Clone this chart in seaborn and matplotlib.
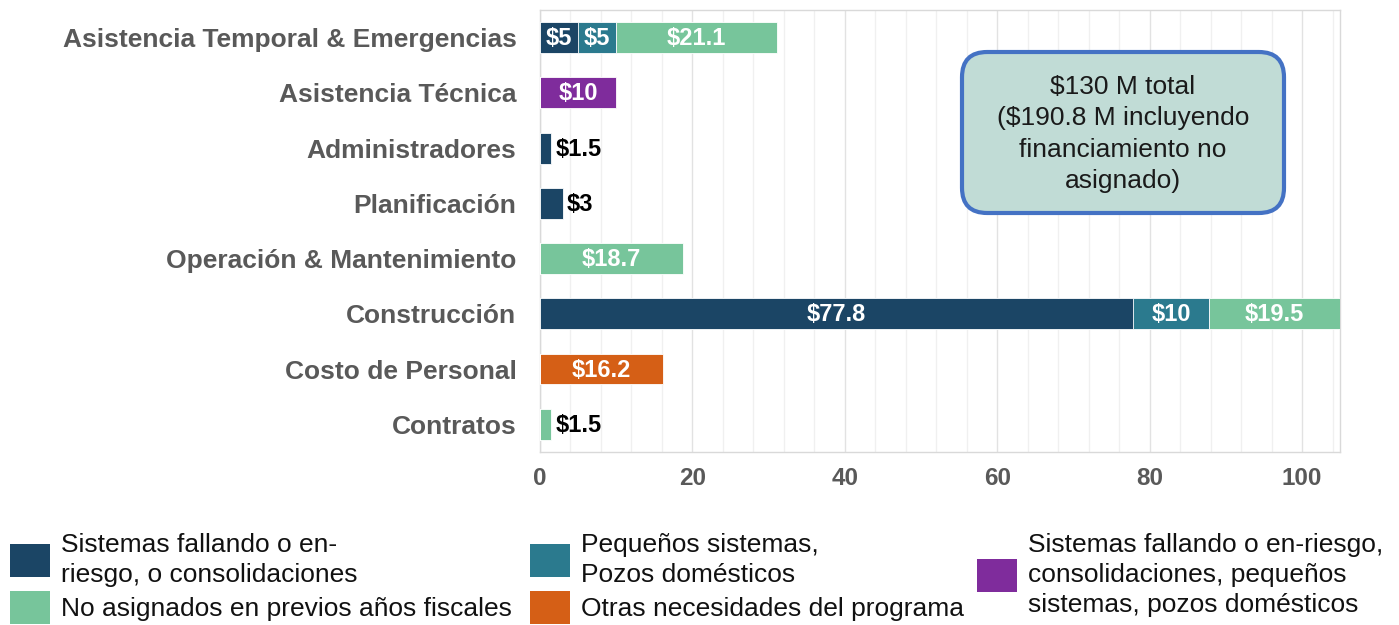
import pandas as pd
import numpy as np
import matplotlib.pyplot as plt
import seaborn as sns
from matplotlib.patches import Patch, FancyBboxPatch
from matplotlib.ticker import MultipleLocator

# Categories top to bottom
categories = ['Asistencia Temporal & Emergencias', 'Asistencia Técnica', 'Administradores',
              'Planificación', 'Operación & Mantenimiento', 'Construcción',
              'Costo de Personal', 'Contratos']

# Funding per segment (millions), in stacking order
fallando = [5, 0, 1.5, 3, 0, 77.8, 0, 0]
pequenos = [5, 0, 0, 0, 0, 10, 0, 0]
combinado = [0, 10, 0, 0, 0, 0, 0, 0]
otras = [0, 0, 0, 0, 0, 0, 16.2, 0]
no_asignados = [21.1, 0, 0, 0, 18.7, 19.5, 0, 1.5]

series_names = ['fallando', 'pequenos', 'combinado', 'otras', 'no_asignados']
series_vals = [fallando, pequenos, combinado, otras, no_asignados]
colors = {
    'fallando': '#1B4565',
    'pequenos': '#2B7A8E',
    'combinado': '#7F2C9C',
    'otras': '#D55F16',
    'no_asignados': '#77C59B',
}
legend_labels = {
    'fallando': 'Sistemas fallando o en-\nriesgo, o consolidaciones',
    'pequenos': 'Pequeños sistemas,\nPozos domésticos',
    'combinado': 'Sistemas fallando o en-riesgo,\nconsolidaciones, pequeños\nsistemas, pozos domésticos',
    'otras': 'Otras necesidades del programa',
    'no_asignados': 'No asignados en previos años fiscales',
}
x_max = 105

df = pd.DataFrame(dict(zip(series_names, series_vals)), index=categories)
cum = df.cumsum(axis=1)
left = cum - df

sns.set_theme(style='white')
plt.rcParams['font.family'] = ['Liberation Sans', 'DejaVu Sans']

fig = plt.figure(figsize=(13.99, 6.25), dpi=100)
ax = fig.add_axes([0.386, 0.277, 0.572, 0.707])

# draw cumulative bars from outermost to innermost
for name in reversed(series_names):
    data = pd.DataFrame({'cat': categories, 'val': cum[name].values})
    sns.barplot(data=data, x='val', y='cat', orient='h', color=colors[name],
                saturation=1, width=0.56, edgecolor='white', linewidth=0.6, ax=ax, zorder=3)

# value labels
for i, cat in enumerate(categories):
    for name in series_names:
        v = df.loc[cat, name]
        if v == 0:
            continue
        l = left.loc[cat, name]
        r = min(l + v, x_max)
        if v < 4:
            ax.text(r + 0.5, i + 0.02, f'${v:g}', ha='left', va='center', color='black',
                    fontsize=17, fontweight='bold', zorder=5)
        else:
            ax.text((l + r) / 2, i + 0.02, f'${v:g}', ha='center', va='center', color='white',
                    fontsize=17, fontweight='bold', zorder=5)

ax.set_xlim(0, x_max)
ax.xaxis.set_major_locator(MultipleLocator(20))
ax.xaxis.set_minor_locator(MultipleLocator(4))
ax.grid(axis='x', which='major', color='#E2E2E2', linewidth=1, zorder=0)
ax.grid(axis='x', which='minor', color='#F0F0F0', linewidth=1, zorder=0)
ax.set_axisbelow(True)
ax.set_xlabel('')
ax.set_ylabel('')
ax.tick_params(axis='x', which='both', length=0, pad=11, labelsize=17.5, labelcolor='#595959')
ax.tick_params(axis='y', length=0, pad=17, labelsize=19, labelcolor='#595959')
for lab in ax.get_xticklabels() + ax.get_yticklabels():
    lab.set_fontweight('bold')
for s in ax.spines.values():
    s.set_color('#D9D9D9')
    s.set_linewidth(1)

# note box
box = FancyBboxPatch((962 / 1399, 1 - 213 / 625), 322 / 1399, 161 / 625,
                     boxstyle='round,pad=0,rounding_size=0.018', mutation_aspect=1399 / 625,
                     transform=fig.transFigure, facecolor='#C1DCD6', edgecolor='#4472C4',
                     linewidth=3, zorder=6)
fig.patches.append(box)
fig.text(1123 / 1399, 1 - 134 / 625,
         '$130 M total\n($190.8 M incluyendo\nfinanciamiento no\nasignado)',
         ha='center', va='center', fontsize=19, color='#1A1A1A', linespacing=1.4, zorder=7)

# legend in three groups
def legend_group(names, x, y):
    handles = [Patch(facecolor=colors[n], edgecolor='none') for n in names]
    lg = fig.legend(handles, [legend_labels[n] for n in names], loc='upper left',
                    bbox_to_anchor=(x, y), frameon=False, fontsize=19,
                    handlelength=1.5, handleheight=1.55, handletextpad=0.45,
                    labelspacing=0.15, borderpad=0, borderaxespad=0)
    for t in lg.get_texts():
        t.set_color('#111111')
        t.set_linespacing(1.32)
    return lg

legend_group(['fallando', 'no_asignados'], 10 / 1399, 1 - 533 / 625)
legend_group(['pequenos', 'otras'], 530 / 1399, 1 - 533 / 625)
legend_group(['combinado'], 977 / 1399, 1 - 533 / 625)

fig.savefig('out.png', dpi=100)
